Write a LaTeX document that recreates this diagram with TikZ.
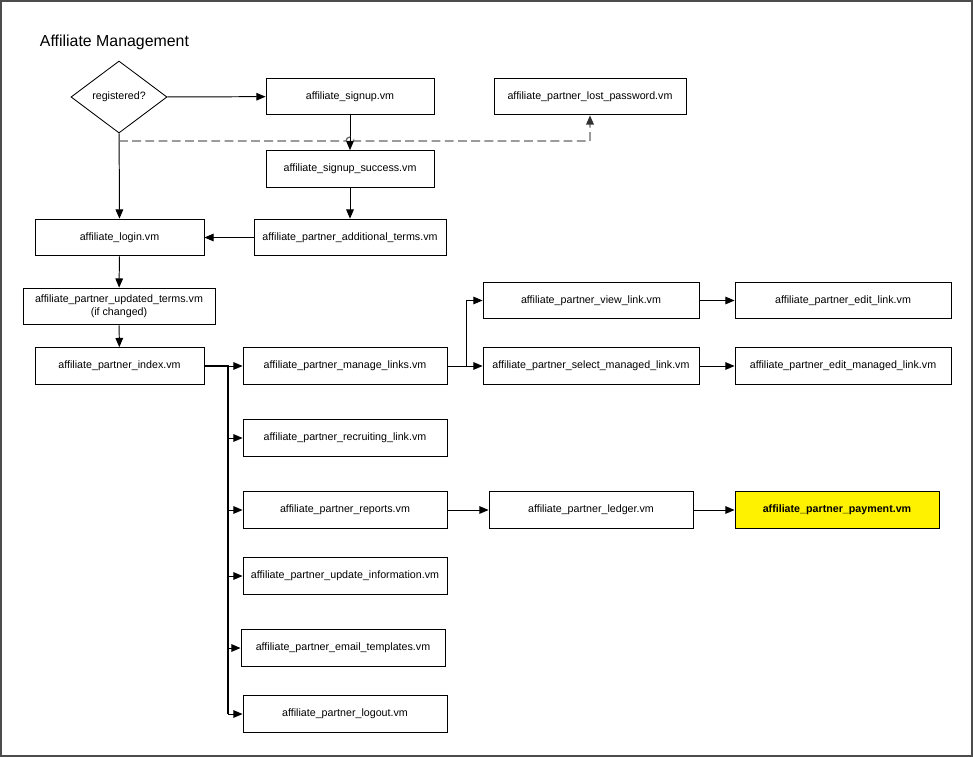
\documentclass[tikz,border=0pt]{standalone}
\usepackage{fontspec}
\setmainfont{Liberation Sans}
\usetikzlibrary{arrows.meta, shapes.geometric}

\begin{document}
\begin{tikzpicture}[
  x=0.025cm, y=-0.025cm,
  page/.style={rectangle, draw, fill=white, minimum width=#1, minimum height=0.92cm,
               inner sep=0pt, line width=0.6pt, font=\fontsize{7.6}{9}\selectfont, align=center},
  page/.default=4.2cm,
  decide/.style={diamond, draw, minimum width=2.4cm, minimum height=1.8cm, inner sep=0pt,
                 line width=0.6pt, font=\fontsize{7.6}{9}\selectfont},
  flow/.style={-{Triangle[length=2.3mm,width=1.9mm]}, line width=0.7pt},
  maybe/.style={-{Triangle[length=2.3mm,width=1.9mm,color=black!80]},
                draw=black!60, dash pattern=on 2.2mm off 1.1mm, line width=0.9pt}
]
  \useasboundingbox (0,0) rectangle (973,757);
  \draw[black!70, line width=0.8pt] (1,1) rectangle (972,756);

  \node[anchor=west, font=\fontsize{11.3}{13}\selectfont] (title) at (35,42) {Affiliate Management};

  \node[decide] (reg) at (119,97) {registered?};
  \node[page] (signup) at (350,96.5) {affiliate\_signup.vm};
  \node[page=4.8cm] (lost) at (590,96.5) {affiliate\_partner\_lost\_password.vm};
  \node[page] (success) at (350,169) {affiliate\_signup\_success.vm};
  \node[page=4.225cm] (login) at (119.5,237.5) {affiliate\_login.vm};
  \node[page=4.8cm] (addterms) at (350,237.5) {affiliate\_partner\_additional\_terms.vm};
  \node[page=4.8cm] (updterms) at (119,306.5) {affiliate\_partner\_updated\_terms.vm\\(if changed)};
  \node[page=4.225cm] (index) at (119.5,366) {affiliate\_partner\_index.vm};

  \node[page=5.1cm] (manage) at (345,366) {affiliate\_partner\_manage\_links.vm};
  \node[page=5.4cm] (view) at (591,300.5) {affiliate\_partner\_view\_link.vm};
  \node[page=5.4cm] (select) at (591,366) {affiliate\_partner\_select\_managed\_link.vm};
  \node[page=5.4cm] (editlink) at (843,300.5) {affiliate\_partner\_edit\_link.vm};
  \node[page=5.4cm] (editmanaged) at (843,366) {affiliate\_partner\_edit\_managed\_link.vm};

  \node[page=5.1cm] (recruit) at (345,438) {affiliate\_partner\_recruiting\_link.vm};
  \node[page=5.1cm] (reports) at (345,510) {affiliate\_partner\_reports.vm};
  \node[page=5.1cm] (ledger) at (591,510) {affiliate\_partner\_ledger.vm};
  \node[page=5.1cm, fill=yellow, font=\fontsize{7.6}{9}\selectfont\bfseries] (payment) at (837,510) {affiliate\_partner\_payment.vm};
  \node[page=5.1cm] (update) at (345,576) {affiliate\_partner\_update\_information.vm};
  \node[page=5.1cm] (email) at (343,648) {affiliate\_partner\_email\_templates.vm};
  \node[page=5.1cm] (logout) at (345,714) {affiliate\_partner\_logout.vm};

  % signup path
  \draw[flow] (reg) -- (signup);
  \draw[flow] (reg) -- (login);
  \draw[flow] (signup) -- (success);
  \draw[flow] (success) -- (addterms);
  \draw[flow] (addterms) -- (login);
  \coordinate (forgot) at (119,141);
  \draw[maybe] (forgot) -- (346,141) arc[start angle=180, end angle=0, radius=0.1cm] -- (lost.south |- forgot) -- (lost.south);

  % login path
  \draw[flow] (login) -- (updterms);
  \draw[flow] (updterms) -- (index);

  % partner menu
  \coordinate (bus) at (228,366);
  \draw[line width=1.2pt] (index.east) -- (bus) -- (bus |- logout.west);
  \draw[flow] (index.east) -- (manage.west);
  \foreach \n in {recruit, reports, update, email, logout}
    \draw[flow] (bus |- \n.west) -- (\n.west);

  \coordinate (fork) at (466,366);
  \draw[flow] (manage) -- (select);
  \draw[flow] (fork) |- (view.west);
  \draw[flow] (view) -- (editlink);
  \draw[flow] (select) -- (editmanaged);
  \draw[flow] (reports) -- (ledger);
  \draw[flow] (ledger) -- (payment);
\end{tikzpicture}
\end{document}
